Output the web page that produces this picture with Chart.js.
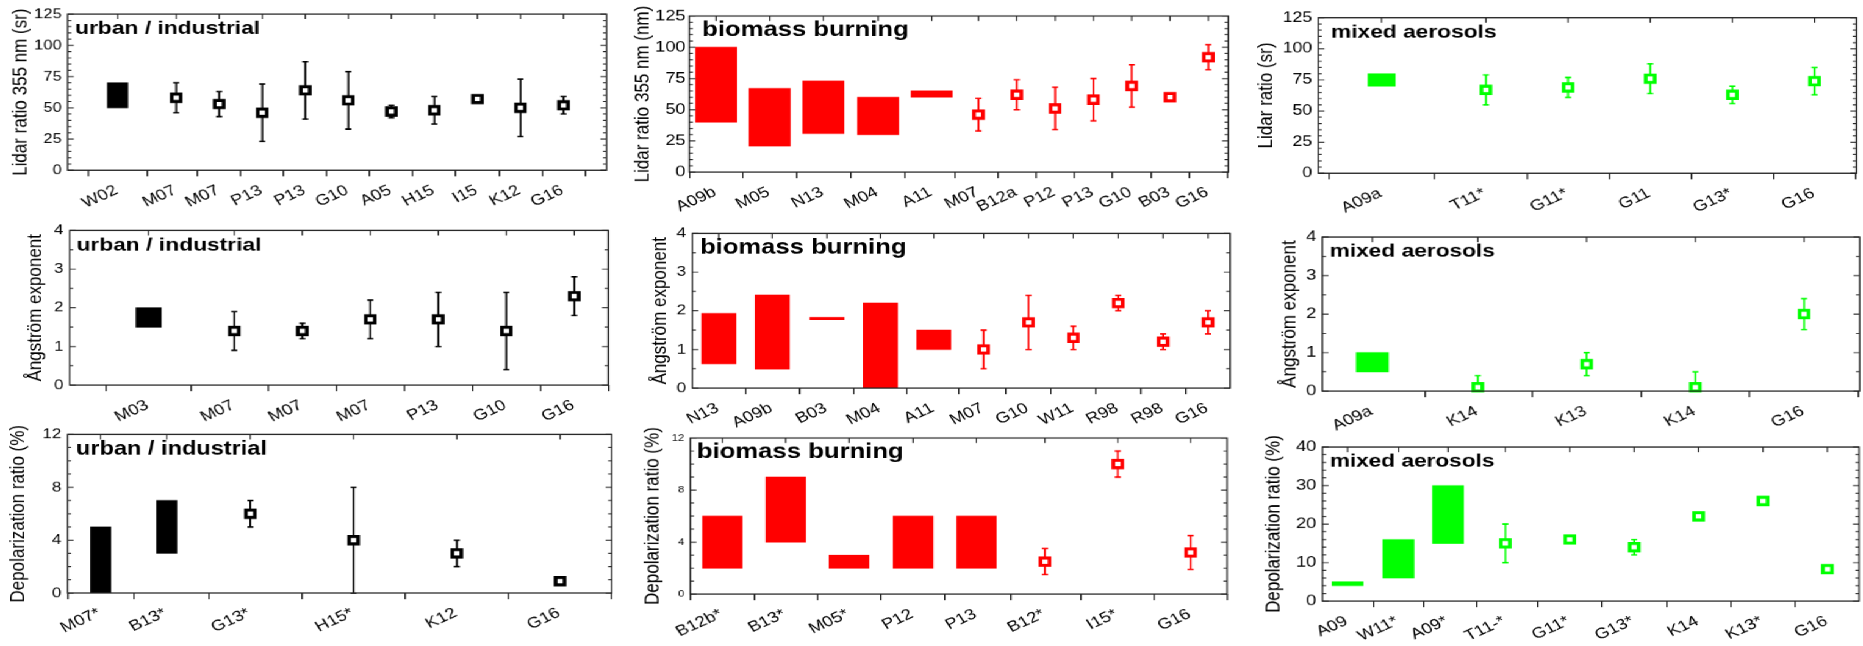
<!DOCTYPE html>
<html>
<head>
<meta charset="utf-8">
<script src="https://cdn.jsdelivr.net/npm/chart.js@4.4.1/dist/chart.umd.min.js"></script>
<style>
  html, body { margin: 0; padding: 0; background: #fff; overflow: hidden; width: 1863px; height: 646px; }
  /* the source figure is stretched sideways, so the whole sheet is drawn narrow and widened */
  #stage { position: absolute; left: 0; top: 0; width: 1527px; height: 646px; transform: scaleX(1.22); transform-origin: 0 0; }
  #stage canvas { position: absolute; }
</style>
</head>
<body>
<div id="stage"></div>
<script>
// ---- data: lo/hi = box range (mean null) or error bar range (mean given) ----
const urbanLidarLabels = ['W02', 'M07', 'M07', 'P13', 'P13', 'G10', 'A05', 'H15', 'I15', 'K12', 'G16'];
const urbanLidarX      = [-0.36, 1, 2, 3, 4, 5, 6, 7, 8, 9, 10];
const urbanLidarMean   = [null, 58, 53, 46, 64, 56, 47, 48, 57, 50, 52];
const urbanLidarLo     = [50, 46, 43, 23, 41, 33, 42, 37, 55, 27, 45];
const urbanLidarHi     = [70, 70, 63, 69, 87, 79, 52, 59, 59, 73, 59];

const biomassLidarLabels = ['A09b', 'M05', 'N13', 'M04', 'A11', 'M07', 'B12a', 'P12', 'P13', 'G10', 'B03', 'G16'];
const biomassLidarX      = [-0.85, 0.55, 1.95, 3.38, 4.78, 6, 7, 8, 9, 10, 11, 12];
const biomassLidarMean   = [null, null, null, null, null, 46, 62, 51, 58, 69, 60, 92];
const biomassLidarLo     = [40, 21, 31, 30, 60, 33, 50, 34, 41, 52, 59, 82];
const biomassLidarHi     = [100, 67, 73, 60, 65, 59, 74, 68, 75, 86, 61, 102];

const mixedLidarLabels = ['A09a', 'T11*', 'G11*', 'G11', 'G13*', 'G16'];
const mixedLidarX      = [-0.27, 1, 2, 3, 4, 5];
const mixedLidarMean   = [null, 67, 69, 76, 63, 74];
const mixedLidarLo     = [70, 55, 61, 64, 56, 63];
const mixedLidarHi     = [80, 79, 77, 88, 70, 85];

const urbanAeLabels = ['M03', 'M07', 'M07', 'M07', 'P13', 'G10', 'G16'];
const urbanAeX      = [-0.26, 1, 2, 3, 4, 5, 6];
const urbanAeMean   = [null, 1.4, 1.4, 1.7, 1.7, 1.4, 2.3];
const urbanAeLo     = [1.5, 0.9, 1.2, 1.2, 1.0, 0.4, 1.8];
const urbanAeHi     = [2.0, 1.9, 1.6, 2.2, 2.4, 2.4, 2.8];

const biomassAeLabels = ['N13', 'A09b', 'B03', 'M04', 'A11', 'M07', 'G10', 'W11', 'R98', 'R98', 'G16'];
const biomassAeX      = [0.10, 1.29, 2.51, 3.70, 4.89, 6, 7, 8, 9, 10, 11];
const biomassAeMean   = [null, null, null, null, null, 1.0, 1.7, 1.3, 2.2, 1.2, 1.7];
const biomassAeLo     = [0.63, 0.49, 1.77, 0, 1.0, 0.5, 1.0, 1.0, 2.0, 1.0, 1.4];
const biomassAeHi     = [1.93, 2.41, 1.83, 2.2, 1.5, 1.5, 2.4, 1.6, 2.4, 1.4, 2.0];

const mixedAeLabels = ['A09a', 'K14', 'K13', 'K14', 'G16'];
const mixedAeX      = [0.03, 1, 2, 3, 4];
const mixedAeMean   = [null, 0.1, 0.7, 0.1, 2.0];
const mixedAeLo     = [0.5, 0, 0.4, 0, 1.6];
const mixedAeHi     = [1.0, 0.4, 1.0, 0.5, 2.4];

const urbanDepLabels = ['M07*', 'B13*', 'G13*', 'H15*', 'K12', 'G16'];
const urbanDepX      = [0.55, 1.19, 2, 3, 4, 5];
const urbanDepMean   = [null, null, 6, 4, 3, 0.9];
const urbanDepLo     = [0, 3, 5, 0, 2, 0.9];
const urbanDepHi     = [5, 7, 7, 8, 4, 0.9];

const biomassDepLabels = ['B12b*', 'B13*', 'M05*', 'P12', 'P13', 'B12*', 'I15*', 'G16'];
const biomassDepX      = [1.57, 2.44, 3.31, 4.19, 5.06, 6, 7, 8];
const biomassDepMean   = [null, null, null, null, null, 2.5, 10, 3.2];
const biomassDepLo     = [2, 4, 2, 2, 2, 1.5, 9, 1.9];
const biomassDepHi     = [6, 9, 3, 6, 6, 3.5, 11, 4.5];

const mixedDepLabels = ['A09', 'W11*', 'A09*', 'T11-*', 'G11*', 'G13*', 'K14', 'K13*', 'G16'];
const mixedDepX      = [1.55, 2.34, 3.11, 4, 5, 6, 7, 8, 9];
const mixedDepMean   = [null, null, null, 15, 16, 14, 22, 26, 8.3];
const mixedDepLo     = [4, 6, 15, 10, 16, 12, 22, 26, 8.3];
const mixedDepHi     = [5, 16, 30, 20, 16, 16, 22, 26, 8.3];

// ---- look ----
const STRETCH = 1.22;
const FONT = "'Liberation Sans', Arial, Helvetica, sans-serif";
const BLACK = '#000000', RED = '#ff0000', GREEN = '#00ff00';
const LIDAR = { yMax: 125, yStep: 25, yMinor: 5 };
const AE = { yMax: 4, yStep: 1, yMinor: 0.5 };
const LABEL_SIZE = 15, LABEL_ANGLE = 29;

// box = plot area in page pixels, tx = centre of the y title
const panels = [
  { labels: urbanLidarLabels, x: urbanLidarX, mean: urbanLidarMean, lo: urbanLidarLo, hi: urbanLidarHi,
    color: BLACK, head: 'urban / industrial', yTitle: 'Lidar ratio 355 nm (sr)', ...LIDAR, xMin: -1.52, xMax: 11,
    box: { L: 67.7, T: 13.3, R: 606.7, B: 170.3, tx: 21 }, bar: 20.3, tick: 13.5, headSize: 18.7, headDx: 6 },
  { labels: biomassLidarLabels, x: biomassLidarX, mean: biomassLidarMean, lo: biomassLidarLo, hi: biomassLidarHi,
    color: RED, head: 'biomass burning', yTitle: 'Lidar ratio 355 nm (nm)', ...LIDAR, xMin: -1.55, xMax: 12.52,
    box: { L: 689, T: 16, R: 1227.3, B: 172.5, tx: 643 }, bar: 41, tick: 15, tickPad: 3, headSize: 21, headDx: 10.5 },
  { labels: mixedLidarLabels, x: mixedLidarX, mean: mixedLidarMean, lo: mixedLidarLo, hi: mixedLidarHi,
    color: GREEN, head: 'mixed aerosols', yTitle: 'Lidar ratio (sr)', ...LIDAR, xMin: -1.04, xMax: 5.51,
    box: { L: 1318.3, T: 16, R: 1856.7, B: 173.3, tx: 1266.7 }, bar: 27, tick: 14.5, headSize: 18.6, headDx: 10.5 },

  { labels: urbanAeLabels, x: urbanAeX, mean: urbanAeMean, lo: urbanAeLo, hi: urbanAeHi,
    color: BLACK, head: 'urban / industrial', yTitle: 'Ångström exponent', ...AE, xMin: -1.42, xMax: 6.5,
    box: { L: 70, T: 229.4, R: 608, B: 386.2, tx: 36 }, bar: 25, tick: 14, headSize: 18.7, headDx: 5.5 },
  { labels: biomassAeLabels, x: biomassAeX, mean: biomassAeMean, lo: biomassAeLo, hi: biomassAeHi,
    color: RED, head: 'biomass burning', yTitle: 'Ångström exponent', ...AE, xMin: -0.49, xMax: 11.49,
    box: { L: 692, T: 231.8, R: 1230, B: 388.4, tx: 660 }, bar: 34, tick: 14, headSize: 21, headDx: 6.3 },
  { labels: mixedAeLabels, x: mixedAeX, mean: mixedAeMean, lo: mixedAeLo, hi: mixedAeHi,
    color: GREEN, head: 'mixed aerosols', yTitle: 'Ångström exponent', ...AE, xMin: -0.43, xMax: 4.51,
    box: { L: 1322.2, T: 235, R: 1860, B: 391, tx: 1289.7 }, bar: 32, tick: 15, headSize: 18.6, headDx: 6 },

  { labels: urbanDepLabels, x: urbanDepX, mean: urbanDepMean, lo: urbanDepLo, hi: urbanDepHi,
    color: BLACK, head: 'urban / industrial', yTitle: 'Depolarization ratio (%)', yMax: 12, yStep: 4, yMinor: 1, xMin: 0.23, xMax: 5.5,
    box: { L: 68, T: 432.7, R: 612.7, B: 593.3, tx: 19 }, bar: 20, tick: 14, headSize: 19.3, headDx: 6.9 },
  { labels: biomassDepLabels, x: biomassDepX, mean: biomassDepMean, lo: biomassDepLo, hi: biomassDepHi,
    color: RED, head: 'biomass burning', yTitle: 'Depolarization ratio (%)', yMax: 12, yStep: 4, yMinor: 1, xMin: 1.13, xMax: 8.5,
    box: { L: 689.7, T: 438.3, R: 1226.7, B: 595.3, tx: 652.5 }, bar: 39.5, tick: 9, headSize: 21, headDx: 5.5 },
  { labels: mixedDepLabels, x: mixedDepX, mean: mixedDepMean, lo: mixedDepLo, hi: mixedDepHi,
    color: GREEN, head: 'mixed aerosols', yTitle: 'Depolarization ratio (%)', yMax: 40, yStep: 10, yMinor: 2, xMin: 1.16, xMax: 9.49,
    box: { L: 1322.2, T: 445, R: 1859, B: 601.3, tx: 1273.8 }, bar: 31, tick: 15, headSize: 18.5, headDx: 6 }
];

// frame, inward ticks, slanted category labels, panel heading and error bars
function makeDecor(p, points) {
  return {
    id: 'decor',
    beforeDatasetsDraw(chart) {
      const { ctx, scales: { x, y } } = chart;
      ctx.save();
      ctx.strokeStyle = p.color;
      ctx.lineWidth = 1.5;
      points.forEach(pt => {
        if (pt.lo === pt.hi) return;
        const px = x.getPixelForValue(pt.x);
        const y1 = y.getPixelForValue(pt.lo), y2 = y.getPixelForValue(pt.hi);
        ctx.beginPath();
        ctx.moveTo(px, y1); ctx.lineTo(px, y2);
        ctx.moveTo(px - 2.5, y1); ctx.lineTo(px + 2.5, y1);
        ctx.moveTo(px - 2.5, y2); ctx.lineTo(px + 2.5, y2);
        ctx.stroke();
      });
      ctx.restore();
    },
    afterDraw(chart) {
      const { ctx, chartArea: a, scales: { x, y } } = chart;
      ctx.save();
      ctx.strokeStyle = '#222';
      ctx.lineWidth = 1.2;
      ctx.strokeRect(a.left, a.top, a.right - a.left, a.bottom - a.top);

      ctx.lineWidth = 1;
      ctx.beginPath();
      for (let v = 0; v <= p.yMax + 1e-9; v += p.yMinor) {
        const major = Math.abs(v / p.yStep - Math.round(v / p.yStep)) < 1e-6;
        const len = major ? 5 : 3;
        const py = y.getPixelForValue(v);
        ctx.moveTo(a.left, py); ctx.lineTo(a.left + len, py);
        ctx.moveTo(a.right, py); ctx.lineTo(a.right - len, py);
      }
      p.x.forEach(v => {
        const px = x.getPixelForValue(v);
        ctx.moveTo(px, a.top); ctx.lineTo(px, a.top + 5);
      });
      ctx.stroke();

      // category names, slanted, right end under the tick
      ctx.fillStyle = '#000';
      ctx.font = `${LABEL_SIZE}px ${FONT}`;
      ctx.textAlign = 'right';
      ctx.textBaseline = 'middle';
      p.x.forEach((v, i) => {
        ctx.save();
        ctx.translate(x.getPixelForValue(v) - 1, a.bottom + 19);
        ctx.rotate(-LABEL_ANGLE * Math.PI / 180);
        ctx.fillText(p.labels[i], 0, 0);
        ctx.restore();
      });

      ctx.font = `bold ${p.headSize}px ${FONT}`;
      ctx.textAlign = 'left';
      ctx.textBaseline = 'alphabetic';
      ctx.fillText(p.head, a.left + p.headDx, a.top + 20);
      ctx.restore();
    }
  };
}

function buildPanel(p) {
  const stage = document.getElementById('stage');
  const canvas = document.createElement('canvas');
  stage.appendChild(canvas);

  const titleLine = 17 * 1.2;
  const padTop = 12, padR = 6, xh = 60;
  const left = p.box.tx / STRETCH - titleLine / 2;
  const yw = p.box.L / STRETCH - left;
  const plotW = (p.box.R - p.box.L) / STRETCH;
  const plotH = p.box.B - p.box.T;
  const w = yw + plotW + padR, h = padTop + plotH + xh;

  canvas.style.left = left + 'px';
  canvas.style.top = (p.box.T - padTop) + 'px';
  canvas.width = w;
  canvas.height = h;

  const boxes = [], points = [];
  p.x.forEach((xv, i) => {
    if (p.mean[i] === null) boxes.push({ x: xv, y: [p.lo[i], p.hi[i]] });
    else points.push({ x: xv, y: p.mean[i], lo: p.lo[i], hi: p.hi[i] });
  });

  new Chart(canvas, {
    type: 'bar',
    data: {
      datasets: [
        { type: 'bar', data: boxes, backgroundColor: p.color, borderWidth: 0,
          barThickness: p.bar / STRETCH, grouped: false, order: 2 },
        { type: 'line', data: points, showLine: false, pointStyle: 'rect',
          pointRadius: 5.2, pointHoverRadius: 5.2, pointBorderWidth: 3,
          pointBackgroundColor: '#ffffff', pointBorderColor: p.color, borderColor: p.color,
          clip: false, order: 1 }
      ]
    },
    options: {
      responsive: false,
      animation: false,
      devicePixelRatio: STRETCH,
      events: [],
      layout: { autoPadding: false, padding: { top: padTop, right: padR, bottom: 0, left: 0 } },
      plugins: { legend: { display: false }, tooltip: { enabled: false } },
      scales: {
        x: {
          type: 'linear', min: p.xMin, max: p.xMax, bounds: 'data', offset: false,
          afterBuildTicks: s => { s.ticks = p.x.map(v => ({ value: v })); },
          afterFit: s => { s.height = xh; },
          grid: { display: true, drawOnChartArea: false, drawTicks: true, tickLength: 6, color: '#222', lineWidth: 1.2 },
          border: { display: false },
          ticks: { display: false, autoSkip: false }
        },
        y: {
          min: 0, max: p.yMax,
          afterFit: s => { s.width = yw; },
          grid: { display: false, drawTicks: false },
          border: { display: false },
          ticks: { stepSize: p.yStep, padding: p.tickPad || 5, color: '#000', font: { family: FONT, size: p.tick } },
          title: { display: true, text: p.yTitle, color: '#000', padding: 0, font: { family: FONT, size: 17 } }
        }
      }
    },
    plugins: [makeDecor(p, points)]
  });
}

panels.forEach(buildPanel);
</script>
</body>
</html>
